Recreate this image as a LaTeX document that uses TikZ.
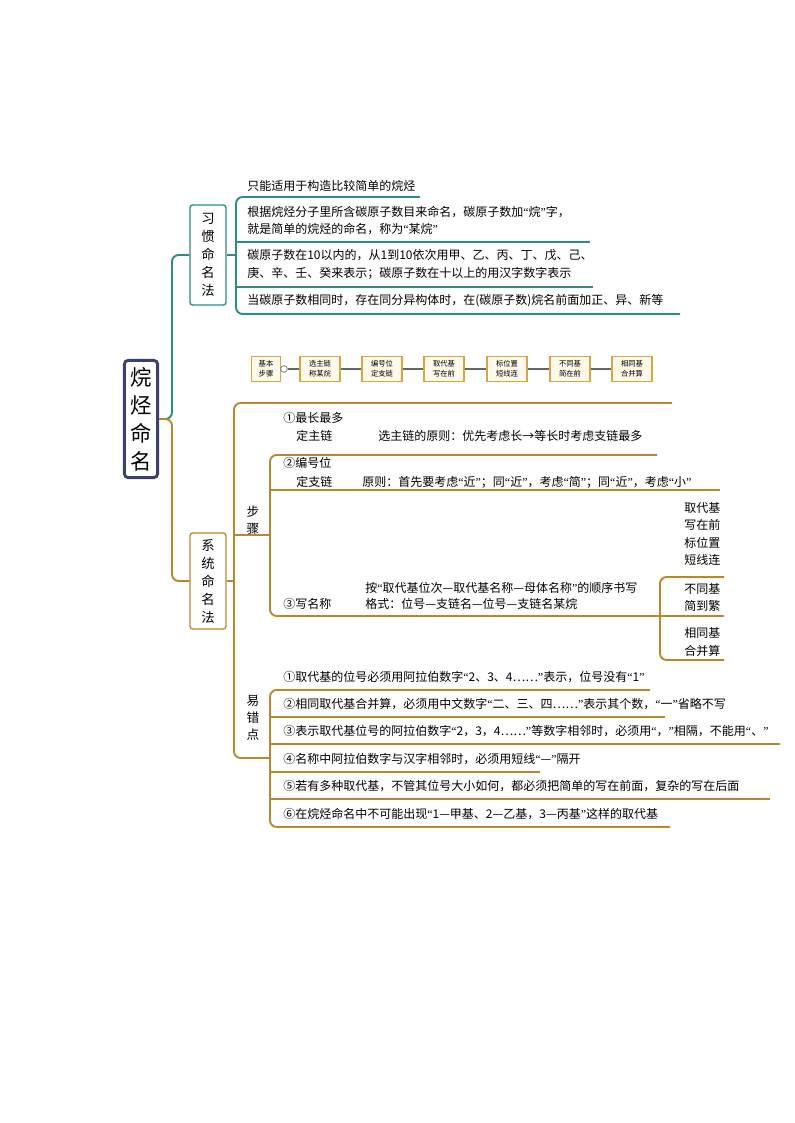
\documentclass[tikz,border=0pt]{standalone}
\usepackage{fontspec}
\setmainfont{Noto Sans CJK SC}
\newfontfamily\qfont{Liberation Serif}
\newcommand{\qq}[1]{{\qfont “}#1{\qfont ”}}
\begin{document}
\begin{tikzpicture}[x=0.75pt,y=-0.75pt,
  tx/.style={font=\fontsize{9}{11}\selectfont,inner sep=0pt,anchor=west},
  vbox/.style={draw=#1,line width=1pt,rounded corners=2pt,fill=white,minimum width=27pt,align=center,font=\fontsize{10}{13.5}\selectfont,inner sep=2pt},
  sbox/.style={draw=stepc,line width=0.8pt,fill=stepf,minimum width=30pt,minimum height=19pt,align=center,font=\fontsize{5.5}{7.5}\selectfont,inner sep=1pt},
  tl/.style={teal0,line width=1.4pt,rounded corners=5pt},
  bl/.style={brown0,line width=1.4pt,rounded corners=5pt}]
\definecolor{teal0}{HTML}{2A8C82}
\definecolor{brown0}{HTML}{B8892A}
\definecolor{navy0}{HTML}{3C3F70}
\definecolor{stepc}{HTML}{D9A441}
\definecolor{stepf}{HTML}{FFF9EA}
\useasboundingbox[fill=white] (0,0) rectangle (794,1123);
% root
\node[draw=navy0,line width=2.2pt,rounded corners=3pt,fill=white,minimum width=25pt,minimum height=88pt,align=center,font=\fontsize{16}{21}\selectfont,inner sep=2pt] (root) at (141,419) {烷\\烃\\命\\名};
\node[vbox=teal0,minimum height=75pt] (xg) at (208,255) {习\\惯\\命\\名\\法};
\node[vbox=brown0,minimum height=72pt] (xt) at (208,581) {系\\统\\命\\名\\法};
\draw[tl] (root.east) -- (172,419) -- (172,255) -- (xg.west);
\draw[bl] (root.east) -- (172,419) -- (172,581) -- (xt.west);
% xg branches
\draw[tl] (xg.east) -- (236,255);
\draw[tl] (420,197) -- (236,197) -- (236,314) -- (680,314);
\draw[tl] (236,242) -- (590,242);
\draw[tl] (236,287) -- (593,287);
\node[tx] (g1) at (247,186) {只能适用于构造比较简单的烷烃};
\node[tx] (g2) at (247,212) {根据烷烃分子里所含碳原子数目来命名，碳原子数加\qq{烷}字，};
\node[tx] (g2b) at (247,229) {就是简单的烷烃的命名，称为\qq{某烷}};
\node[tx] (g3) at (247,255) {碳原子数在10以内的，从1到10依次用甲、乙、丙、丁、戊、己、};
\node[tx] (g3b) at (247,273) {庚、辛、壬、癸来表示；碳原子数在十以上的用汉字数字表示};
\node[tx] (g4) at (247,301) {当碳原子数相同时，存在同分异构体时，在(碳原子数)烷名前面加正、异、新等};
% step row
\node[sbox,minimum width=22pt] (s0) at (266,369) {基本\\步骤};
\node[sbox] (s1) at (320,369) {选主链\\称某烷};
\node[sbox] (s2) at (382,369) {编号位\\定支链};
\node[sbox] (s3) at (444,369) {取代基\\写在前};
\node[sbox] (s4) at (507,369) {标位置\\短线连};
\node[sbox] (s5) at (570,369) {不同基\\简在前};
\node[sbox] (s6) at (632,369) {相同基\\合并算};
\node[draw=gray,circle,inner sep=0pt,minimum size=5pt,line width=0.6pt,fill=white] (sc) at (284,369) {};
\draw[gray!80!black,line width=1.2pt] (sc) -- (s1) -- (s2) -- (s3) -- (s4) -- (s5) -- (s6);
\draw[gray,line width=0.6pt] (s0) -- (sc);
% xt branches
\draw[bl] (xt.east) -- (234,581);
\draw[bl] (672,403) -- (234,403) -- (234,758) -- (270,758);
\draw[bl] (234,535) -- (270,535);
\node[font=\fontsize{9.5}{13}\selectfont,align=center,inner sep=0pt] (bz) at (253,520) {步\\骤};
\node[font=\fontsize{9.5}{13}\selectfont,align=center,inner sep=0pt] (yc) at (253,718) {易\\错\\点};
% step items
\draw[bl] (657,455) -- (270,455) -- (270,616) -- (650,616);
\draw[bl] (270,490) -- (720,490);
\node[tx] (a1) at (283,418) {①最长最多};
\node[tx] (a1b) at (296,436) {定主链};
\node[tx] (a1t) at (378,436) {选主链的原则：优先考虑长→等长时考虑支链最多};
\node[tx] (a2) at (283,463) {②编号位};
\node[tx] (a2b) at (296,482) {定支链};
\node[tx] (a2t) at (362,482) {原则：首先要考虑\qq{近}；同\qq{近}，考虑\qq{简}；同\qq{近}，考虑\qq{小}};
\node[tx] (a3) at (283,604) {③写名称};
\node[tx] (a3t) at (365,588) {按\qq{取代基位次—取代基名称—母体名称}的顺序书写};
\node[tx] (a3u) at (365,604) {格式：位号—支链名—位号—支链名某烷};
\draw[bl] (650,616) -- (724,616);
\draw[bl] (724,577) -- (660,577) -- (660,660) -- (724,660);
\node[tx,align=left,font=\fontsize{9}{13}\selectfont] (b1) at (684,534) {取代基\\写在前\\标位置\\短线连};
\node[tx,align=left,font=\fontsize{9}{12.8}\selectfont] (b2) at (684,597) {不同基\\简到繁};
\node[tx,align=left,font=\fontsize{9}{12.8}\selectfont] (b3) at (684,642) {相同基\\合并算};
% errors
\draw[bl] (650,690) -- (270,690) -- (270,827) -- (670,827);
\draw[bl] (270,717) -- (665,717);
\draw[bl] (270,744) -- (780,744);
\draw[bl] (270,772) -- (540,772);
\draw[bl] (270,799) -- (770,799);
\node[tx] (e1) at (283,677) {①取代基的位号必须用阿拉伯数字\qq{2、3、4……}表示，位号没有\qq{1}};
\node[tx] (e2) at (283,704) {②相同取代基合并算，必须用中文数字\qq{二、三、四……}表示其个数，\qq{一}省略不写};
\node[tx] (e3) at (283,731) {③表示取代基位号的阿拉伯数字\qq{2，3，4……}等数字相邻时，必须用\qq{，}相隔，不能用\qq{、}};
\node[tx] (e4) at (283,759) {④名称中阿拉伯数字与汉字相邻时，必须用短线\qq{—}隔开};
\node[tx] (e5) at (283,786) {⑤若有多种取代基，不管其位号大小如何，都必须把简单的写在前面，复杂的写在后面};
\node[tx] (e6) at (283,814) {⑥在烷烃命名中不可能出现\qq{1—甲基、2—乙基，3—丙基}这样的取代基};
\end{tikzpicture}
\end{document}
